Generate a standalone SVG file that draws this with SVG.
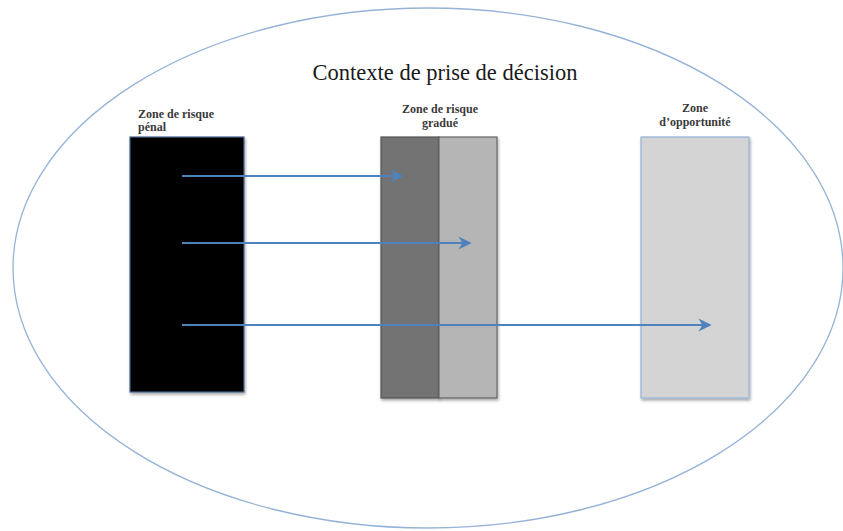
<svg xmlns="http://www.w3.org/2000/svg" width="843" height="531" viewBox="0 0 843 531">
  <style>
    .lbl { font-family: "Liberation Serif", "DejaVu Serif", serif; font-size: 12px; font-weight: bold; fill: #3a3a3a; }
    .title { font-family: "Liberation Serif", "DejaVu Serif", serif; font-size: 22.5px; fill: #1a1a1a; }
    .zone { stroke-width: 1.2; filter: url(#shadow); }
    .conn { stroke: #4f81bd; stroke-width: 2.2; fill: none; marker-end: url(#head); }
  </style>
  <defs>
    <filter id="shadow" x="-10%" y="-5%" width="125%" height="115%">
      <feDropShadow dx="1" dy="2" stdDeviation="1.5" flood-color="#000" flood-opacity="0.35"/>
    </filter>
    <marker id="head" viewBox="0 0 10 10" refX="8" refY="5" markerWidth="6" markerHeight="6" markerUnits="strokeWidth" orient="auto">
      <path d="M0,0 L10,5 L0,10 L3,5 Z" fill="#4f81bd"/>
    </marker>
  </defs>

  <rect width="843" height="531" fill="#ffffff"/>

  <!-- decision context -->
  <g id="context">
    <ellipse cx="428" cy="268" rx="415" ry="260" fill="none" stroke="#95b3d7" stroke-width="1.3"/>
    <text class="title" x="445" y="80" text-anchor="middle">Contexte de prise de décision</text>
  </g>

  <!-- zones -->
  <g id="zone-penal">
    <rect class="zone" x="130" y="137" width="114" height="255" fill="#000000" stroke="#4a6890"/>
    <text class="lbl" x="138" y="118">Zone de risque</text>
    <text class="lbl" x="138" y="131">pénal</text>
  </g>

  <g id="zone-gradue">
    <rect class="zone" x="381" y="137" width="58" height="261" fill="#737373" stroke="#555555"/>
    <rect class="zone" x="439" y="137" width="58" height="261" fill="#b5b5b5" stroke="#666666"/>
    <text class="lbl" x="440" y="113" text-anchor="middle">Zone  de risque</text>
    <text class="lbl" x="440" y="127" text-anchor="middle">gradué</text>
  </g>

  <g id="zone-opportunite">
    <rect class="zone" x="641" y="137" width="108" height="261" fill="#d4d4d4" stroke="#95b3d7"/>
    <text class="lbl" x="695" y="112" text-anchor="middle">Zone</text>
    <text class="lbl" x="695" y="126" text-anchor="middle">d’opportunité</text>
  </g>

  <!-- connectors -->
  <g id="connectors">
    <line class="conn" x1="182" y1="176" x2="401" y2="176"/>
    <line class="conn" x1="182" y1="243" x2="469" y2="243"/>
    <line class="conn" x1="182" y1="325" x2="709" y2="325"/>
  </g>
</svg>
